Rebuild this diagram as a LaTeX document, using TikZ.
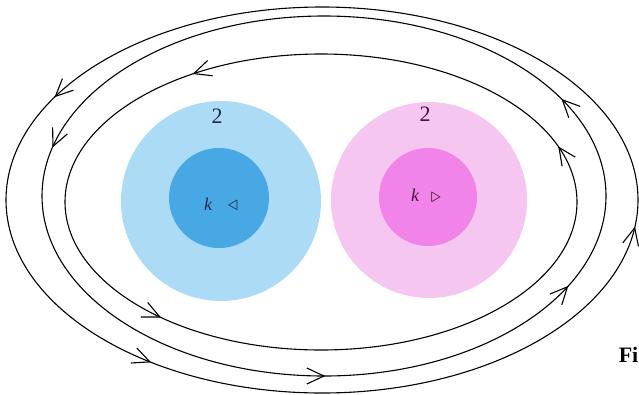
\documentclass[tikz,border=0pt]{standalone}
\usepackage{fontspec}
\setmainfont{Liberation Serif}
\definecolor{lblue}{RGB}{172,220,245}
\definecolor{dblue}{RGB}{72,168,228}
\definecolor{lpink}{RGB}{245,198,240}
\definecolor{dpink}{RGB}{240,132,232}
\definecolor{navytxt}{RGB}{30,42,85}
\definecolor{plumtxt}{RGB}{70,20,62}
\tikzset{
  flow/.style={line width=1.1pt, draw=black},
  barbtip/.style={line width=1.1pt, draw=black, line join=miter},
  blob/.style={circle, inner sep=0pt, outer sep=0pt},
  lbl/.style={inner sep=0pt}
}
\newcommand\flowtip[5]{%
  \pgfmathsetmacro\fx{#1+#3*cos(#5)}%
  \pgfmathsetmacro\fy{#2-#4*sin(#5)}%
  \pgfmathsetmacro\fa{atan2(-#4*cos(#5),-#3*sin(#5))}%
  \draw[barbtip] (\fx,\fy) ++(\fa+155:19) -- (\fx,\fy) -- ++(\fa-155:19);%
}
\begin{document}
\begin{tikzpicture}[x=1pt,y=-1pt]
\useasboundingbox (0,0) rectangle (639,394);
\clip (0,0) rectangle (639,394);
\fill[white] (0,0) rectangle (639,394);
% blobs
\node[blob, fill=lblue, minimum size=200pt] (bigL) at (221,201) {};
\node[blob, fill=dblue, minimum size=100pt] (smallL) at (219,198) {};
\node[blob, fill=lpink, minimum size=196pt] (bigR) at (429,200) {};
\node[blob, fill=dpink, minimum size=98pt] (smallR) at (428,197) {};
% labels
\node[lbl, text=navytxt, font=\fontsize{22}{24}\selectfont] (twoL) at (217,116) {2};
\node[lbl, text=plumtxt, font=\fontsize{22}{24}\selectfont] (twoR) at (425,114) {2};
\node[lbl, text=navytxt, font=\itshape\fontsize{18}{20}\selectfont] (kL) at (208,204) {k};
\node[lbl, text=navytxt, font=\fontsize{20}{22}\selectfont] (triL) at (233,206) {$\triangleleft$};
\node[lbl, text=plumtxt, font=\itshape\fontsize{18}{20}\selectfont] (kR) at (415,195) {k};
\node[lbl, text=plumtxt, font=\fontsize{20}{22}\selectfont] (triR) at (436,198) {$\triangleright$};
\node[anchor=base east, inner sep=0pt, font=\bfseries\fontsize{22}{24}\selectfont] (fig) at (638.5,362) {Fi};
% field lines
\draw[flow] (322,200) ellipse [x radius=316pt, y radius=193pt];
\draw[flow] (324,196) ellipse [x radius=282pt, y radius=180pt];
\draw[flow] (321,202) ellipse [x radius=256pt, y radius=148pt];
% arrow tips
\flowtip{322}{200}{316}{193}{147.5}
\flowtip{322}{200}{316}{193}{237}
\flowtip{322}{200}{316}{193}{351.7}
\flowtip{324}{196}{282}{180}{164}
\flowtip{324}{196}{282}{180}{270}
\flowtip{324}{196}{282}{180}{329.7}
\flowtip{324}{196}{282}{180}{32.3}
\flowtip{321}{202}{256}{148}{119.8}
\flowtip{321}{202}{256}{148}{231}
\flowtip{321}{202}{256}{148}{21.6}
\end{tikzpicture}
\end{document}
